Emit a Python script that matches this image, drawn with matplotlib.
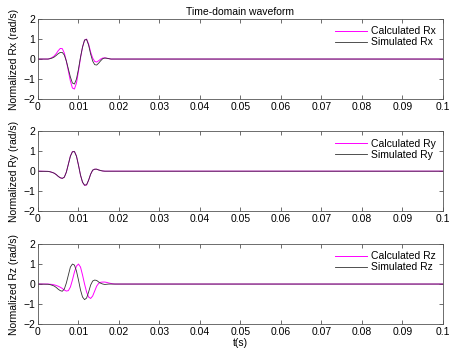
import numpy as np
import matplotlib
matplotlib.use("Agg")
import matplotlib.pyplot as plt

plt.rcParams['font.family'] = ['Liberation Sans', 'DejaVu Sans']

# sample times (s) for the pulse part, the tail is flat up to 0.1
t = [0, 0.0025, 0.003, 0.0035, 0.004, 0.0045, 0.005, 0.0055, 0.006, 0.0065,
     0.007, 0.0075, 0.008, 0.0085, 0.009, 0.0095, 0.010, 0.0105, 0.011, 0.0115,
     0.012, 0.0125, 0.013, 0.0135, 0.014, 0.0145, 0.015, 0.0155, 0.016, 0.0165,
     0.017, 0.0175, 0.018, 0.0185, 0.019, 0.0195, 0.02, 0.1]

rx_calc = [0, 0, 0.03, 0.08, 0.15, 0.27, 0.42, 0.53, 0.52, 0.3,
           -0.1, -0.6, -1.1, -1.45, -1.5, -1.2, -0.6, 0.05, 0.6, 0.95,
           1.0, 0.75, 0.35, 0.05, -0.12, -0.15, -0.08, 0.0, 0.05, 0.06,
           0.04, 0.02, 0, 0, 0, 0, 0, 0]
rx_sim = [0, 0, 0.02, 0.05, 0.1, 0.18, 0.27, 0.33, 0.33, 0.2,
          -0.1, -0.5, -0.9, -1.2, -1.25, -1.0, -0.5, 0.1, 0.6, 0.95,
          0.98, 0.7, 0.25, -0.1, -0.28, -0.3, -0.2, -0.08, 0.02, 0.05,
          0.04, 0.02, 0, 0, 0, 0, 0, 0]

ry_calc = [0, -0.01, -0.03, -0.06, -0.1, -0.17, -0.26, -0.33, -0.36, -0.3,
           -0.05, 0.35, 0.76, 0.98, 0.99, 0.76, 0.3, -0.2, -0.56, -0.71,
           -0.69, -0.45, -0.15, 0.05, 0.1, 0.1, 0.06, 0.03, 0.01, 0,
           0, 0, 0, 0, 0, 0, 0, 0]
ry_sim = [0, -0.01, -0.03, -0.06, -0.1, -0.17, -0.26, -0.33, -0.36, -0.3,
          -0.05, 0.35, 0.75, 0.97, 0.98, 0.75, 0.3, -0.2, -0.55, -0.7,
          -0.68, -0.45, -0.15, 0.05, 0.1, 0.1, 0.06, 0.03, 0.01, 0,
          0, 0, 0, 0, 0, 0, 0, 0]

rz_calc = [0, 0, -0.01, -0.02, -0.04, -0.07, -0.11, -0.16, -0.22, -0.3,
           -0.35, -0.33, -0.15, 0.2, 0.6, 0.9, 1.0, 0.85, 0.45, 0.0,
           -0.4, -0.65, -0.72, -0.6, -0.35, -0.1, 0.04, 0.09, 0.1, 0.1,
           0.08, 0.05, 0.03, 0.01, 0, 0, 0, 0]
rz_sim = [0, -0.01, -0.03, -0.06, -0.1, -0.17, -0.26, -0.33, -0.36, -0.25,
          0.05, 0.45, 0.85, 1.0, 0.95, 0.65, 0.2, -0.3, -0.65, -0.78,
          -0.7, -0.4, -0.05, 0.15, 0.2, 0.18, 0.1, 0.04, 0.0, -0.02,
          -0.01, 0, 0, 0, 0, 0, 0, 0]

names = ['Rx', 'Ry', 'Rz']
calc = [rx_calc, ry_calc, rz_calc]
sim = [rx_sim, ry_sim, rz_sim]

xticks = np.arange(0, 0.1001, 0.01)
xlabels = ['0', '0.01', '0.02', '0.03', '0.04', '0.05', '0.06', '0.07', '0.08', '0.09', '0.1']

fig = plt.figure(figsize=(4.55, 3.49), dpi=100)
bottoms = [0.7163, 0.395, 0.0716]
for i in range(3):
    ax = fig.add_axes([0.0835, bottoms[i], 0.890, 0.229])
    ax.plot(t, calc[i], color='#ff00ff', lw=0.7, label='Calculated ' + names[i])
    ax.plot(t, sim[i], color='#333333', lw=0.6, label='Simulated ' + names[i])
    ax.set_xlim(0, 0.1)
    ax.set_ylim(-2, 2)
    ax.set_xticks(xticks)
    ax.set_xticklabels(xlabels)
    ax.set_yticks([-2, -1, 0, 1, 2])
    ax.tick_params(direction='in', top=True, right=True, labelsize=7.5, length=3,
                   width=0.6, color='#555555', pad=2)
    for s in ax.spines.values():
        s.set_color('#555555')
        s.set_linewidth(0.6)
    ax.set_ylabel('Normalized ' + names[i] + ' (rad/s)', fontsize=7.5, labelpad=3)
    ax.legend(loc='upper right', frameon=False, fontsize=7.5, handlelength=3.0,
              handletextpad=0.4, labelspacing=0.1, borderaxespad=0.3)
    if i == 0:
        ax.set_title('Time-domain waveform', fontsize=7.5, pad=3)
    if i == 2:
        ax.set_xlabel('t(s)', fontsize=7.5, labelpad=1)

fig.savefig('out.png', dpi=100)
